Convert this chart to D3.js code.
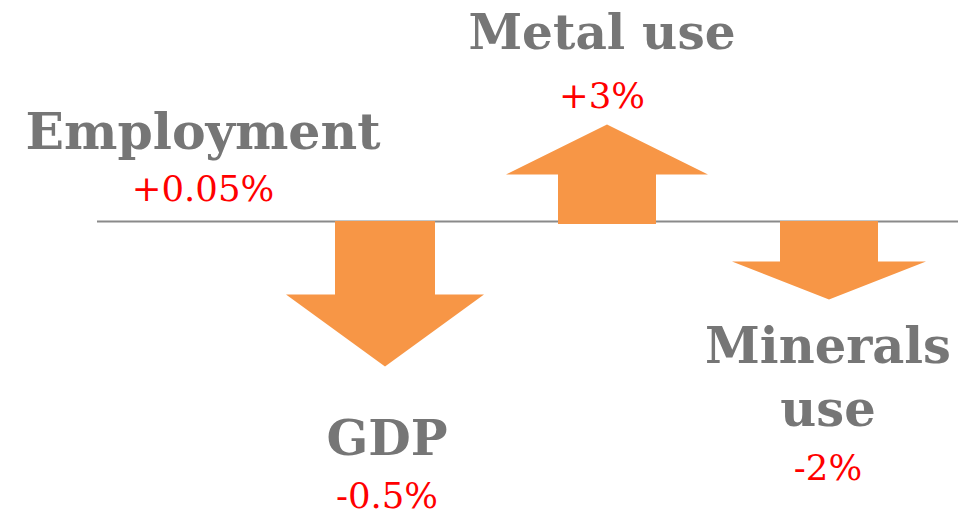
<!DOCTYPE html>
<html>
<head>
<meta charset="utf-8">
<script src="https://cdn.jsdelivr.net/npm/d3@7"></script>
<style>
  html, body { margin: 0; padding: 0; background: #ffffff; }
  svg { display: block; }
</style>
</head>
<body>
<svg id="chart" width="977" height="520"></svg>
<script>
// Indicator changes
const categories = ["Employment", "GDP", "Metal use", "Minerals use"];
const values = [0.05, -0.5, 3, -2];
const valueLabels = ["+0.05%", "-0.5%", "+3%", "-2%"];

// Arrow shape per indicator (shaft length, head length, shaft width, head width), in px
const arrowShapes = [
  null,
  { shaft: 73, head: 72, shaftW: 100, headW: 198 },
  { shaft: 47, head: 50, shaftW: 98, headW: 202 },
  { shaft: 40, head: 38, shaftW: 98, headW: 194 }
];

// Label placement per indicator: centre x, name baselines, value baseline, name size
const labelLayout = [
  { x: 203, name: [149], value: 201, size: 50.5 },
  { x: 387, name: [455], value: 508, size: 49 },
  { x: 602, name: [49], value: 108, size: 48.5 },
  { x: 828, name: [363, 426], value: 480, size: 49.5 }
];
const nameLines = [["Employment"], ["GDP"], ["Metal use"], ["Minerals", "use"]];

const svg = d3.select("#chart");
const baseY = 221.5;

const x = d3.scalePoint().domain(categories).range([163, 829]);

// Baseline
svg.append("line")
  .attr("x1", 97).attr("x2", 958)
  .attr("y1", baseY).attr("y2", baseY)
  .attr("stroke", "#8a8a8a").attr("stroke-width", 2);

// Arrows: direction from the sign of each value
const arrowData = categories.map((c, i) => ({ c, v: values[i], s: arrowShapes[i] }))
  .filter(d => d.s && Math.abs(d.v) >= 0.1);

svg.selectAll("path.arrow").data(arrowData).join("path")
  .attr("class", "arrow")
  .attr("fill", "#f79646")
  .attr("d", d => {
    const cx = x(d.c);
    const dir = d.v < 0 ? 1 : -1;
    const s = d.s;
    const y0 = baseY + (dir > 0 ? -0.5 : 2.5);
    const y1 = baseY + dir * s.shaft;
    const y2 = baseY + dir * (s.shaft + s.head);
    const p = d3.path();
    p.moveTo(cx - s.shaftW / 2, y0);
    p.lineTo(cx + s.shaftW / 2, y0);
    p.lineTo(cx + s.shaftW / 2, y1);
    p.lineTo(cx + s.headW / 2, y1);
    p.lineTo(cx, y2);
    p.lineTo(cx - s.headW / 2, y1);
    p.lineTo(cx - s.shaftW / 2, y1);
    p.closePath();
    return p.toString();
  });

// Indicator names and their changes
categories.forEach((c, i) => {
  const L = labelLayout[i];
  nameLines[i].forEach((line, j) => {
    svg.append("text")
      .attr("x", L.x).attr("y", L.name[j])
      .attr("text-anchor", "middle")
      .attr("font-family", "'DejaVu Serif', Georgia, serif")
      .attr("font-weight", "bold")
      .attr("font-size", L.size)
      .attr("fill", "#767676")
      .text(line);
  });
  svg.append("text")
    .attr("x", L.x).attr("y", L.value)
    .attr("text-anchor", "middle")
    .attr("font-family", "'DejaVu Serif', Georgia, serif")
    .attr("font-size", 35.5)
    .attr("fill", "#ff0000")
    .text(valueLabels[i]);
});
</script>
</body>
</html>
